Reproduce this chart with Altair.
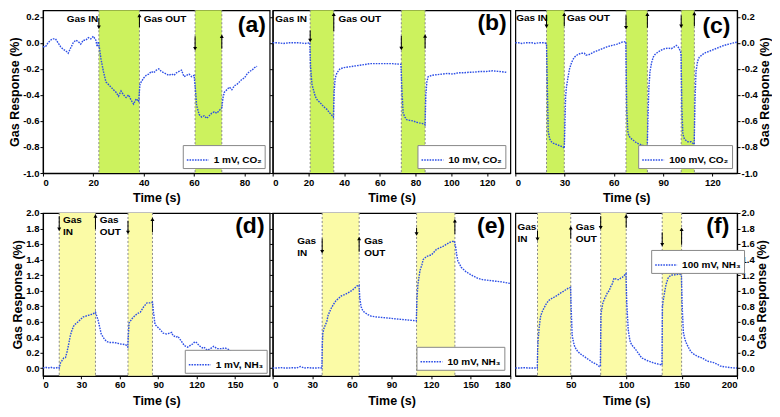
import altair as alt
import pandas as pd

# ---------------- data ----------------
# (a) 1 mV, CO2
a_time = [0, 1, 2, 3, 4, 5, 6, 7, 8, 9, 10, 11, 12, 13, 14, 15, 16, 17, 18, 19, 20, 21, 21.5, 22,
          22.5, 23, 24, 25, 26, 27, 28, 29, 30, 31, 32, 33, 34, 35, 36, 37, 38,
          38.5, 39, 40, 41, 42, 43, 44, 45, 46, 47, 48, 49, 50, 51, 52, 53, 54, 55, 56, 57, 58, 59, 60,
          60.5, 61, 62, 63, 64, 65, 66, 67, 68, 69, 70, 71,
          71.5, 72, 73, 74, 75, 76, 77, 78, 79, 80, 81, 82, 83, 84, 85]
a_resp = [-0.03, -0.03, 0.0, 0.02, 0.03, 0.03, 0.0, -0.03, -0.05, -0.06, -0.08, -0.04, 0.0, 0.02, 0.01, -0.01, 0.02, 0.02, 0.04, 0.03, 0.05, 0.02, -0.03, 0.01,
          -0.05, -0.12, -0.22, -0.3, -0.32, -0.34, -0.36, -0.38, -0.41, -0.37, -0.4, -0.42, -0.4, -0.44, -0.47, -0.43, -0.45,
          -0.32, -0.3, -0.27, -0.25, -0.24, -0.22, -0.23, -0.21, -0.2, -0.22, -0.23, -0.24, -0.25, -0.24, -0.25, -0.23, -0.22, -0.21, -0.26, -0.25, -0.24, -0.26, -0.25,
          -0.35, -0.48, -0.55, -0.57, -0.56, -0.58, -0.56, -0.54, -0.53, -0.54, -0.52, -0.5,
          -0.42, -0.38, -0.36, -0.34, -0.36, -0.33, -0.32, -0.3, -0.28, -0.27, -0.24, -0.22, -0.21, -0.19, -0.18]

# (b) 10 mV, CO2
b_time = [0, 3, 6, 9, 12, 15, 18, 20.8,
          21.2, 22, 23, 23.8, 25, 26.6, 28.5, 30.3, 32, 34,
          34.4, 35, 36, 37.7, 40, 42.5, 45, 50, 54.5, 59, 63.8, 67, 71.8,
          72.3, 73, 74, 75, 76.5, 78.6, 80.5, 82, 84, 85.3,
          85.7, 86.3, 87, 89, 91.6, 95, 98, 101, 104, 107, 110, 113, 116, 119.5, 123, 127, 130.7]
b_resp = [0.0, 0.0, -0.005, 0.0, 0.0, 0.0, -0.005, 0.0,
          -0.18, -0.32, -0.37, -0.41, -0.44, -0.46, -0.49, -0.51, -0.54, -0.57,
          -0.38, -0.27, -0.23, -0.2, -0.19, -0.185, -0.18, -0.17, -0.16, -0.16, -0.16, -0.16, -0.165,
          -0.35, -0.54, -0.57, -0.59, -0.595, -0.6, -0.61, -0.615, -0.62, -0.63,
          -0.4, -0.3, -0.26, -0.25, -0.245, -0.24, -0.235, -0.24, -0.23, -0.23, -0.226, -0.225, -0.22, -0.22, -0.215, -0.22, -0.226]

# (c) 100 mV, CO2
c_time = [0, 2, 4, 6, 8, 10, 12, 14, 16, 18, 19,
          19.5, 20, 21, 22, 23, 25, 27, 29, 29.8,
          30.2, 30.6, 31, 32, 33, 34, 35, 36, 38, 40, 42, 43, 45, 48, 50, 53, 56, 59, 62, 65, 67.3,
          67.8, 68.5, 69, 70, 72, 74, 76, 78, 80.3,
          80.8, 81.3, 82, 83, 84, 85, 87, 89, 91, 93, 95, 97, 98, 99, 100, 100.9,
          101.4, 102, 103, 104, 105, 107, 108.9,
          109.4, 110, 111, 112, 113, 115, 118, 121, 124, 127, 130, 133, 135]
c_resp = [0.0, 0.0, -0.005, 0.0, 0.0, 0.0, -0.005, 0.0, 0.0, 0.0, -0.01,
          -0.35, -0.68, -0.74, -0.76, -0.77, -0.78, -0.79, -0.8, -0.81,
          -0.62, -0.42, -0.35, -0.27, -0.2, -0.16, -0.13, -0.11, -0.09, -0.08, -0.08, -0.095, -0.09, -0.07, -0.06, -0.045, -0.03, -0.02, -0.01, 0.005, 0.01,
          -0.5, -0.68, -0.71, -0.73, -0.75, -0.77, -0.78, -0.79, -0.81,
          -0.55, -0.35, -0.22, -0.15, -0.11, -0.09, -0.07, -0.055, -0.045, -0.04, -0.045, -0.03, -0.02, -0.03, -0.05, -0.08,
          -0.5, -0.7, -0.74, -0.75, -0.76, -0.76, -0.78,
          -0.45, -0.22, -0.14, -0.11, -0.1, -0.08, -0.065, -0.05, -0.035, -0.02, -0.01, 0.0, 0.005]

# (d) 1 mV, NH3
d_time = [0, 2, 4, 6, 8, 10, 12, 12.7,
          13.7, 15, 16.3, 17.6, 18.8, 20, 21.4, 22.5, 23.9, 25.5, 27.7, 29.5, 31.5, 33.5, 35.4, 37.5, 39.2, 41,
          43, 45.5, 48, 50, 51.9, 55.7, 58, 60.8, 64.6, 66.2,
          67.2, 69.7, 71.5, 73.5, 76, 78.6, 81.2, 83.7, 85.5,
          86.3, 87.5, 88.8, 91.3, 93.9, 96.4, 99, 100.5, 101.5, 104, 105.3, 107.9, 110.4, 113, 116.8, 118, 119.3,
          121.9, 124.4, 125.7, 128.2, 130.8, 133.3, 135.9, 139.7, 142.2, 144.8, 147.3, 149.9, 153.7, 155, 157.5,
          160, 163.9, 167, 170, 173]
d_resp = [0.0, 0.01, 0.0, 0.01, 0.0, 0.0, 0.01, 0.0,
          0.066, 0.1, 0.13, 0.135, 0.21, 0.3, 0.42, 0.48, 0.54, 0.57, 0.6, 0.63, 0.66, 0.67, 0.68, 0.69, 0.7, 0.72,
          0.62, 0.44, 0.37, 0.34, 0.33, 0.33, 0.32, 0.31, 0.3, 0.27,
          0.58, 0.64, 0.67, 0.7, 0.72, 0.79, 0.84, 0.84, 0.85,
          0.72, 0.56, 0.54, 0.5, 0.45, 0.44, 0.45, 0.46, 0.42, 0.4, 0.41, 0.35, 0.29, 0.27, 0.31, 0.33, 0.34,
          0.29, 0.26, 0.27, 0.23, 0.25, 0.28, 0.25, 0.25, 0.26, 0.24, 0.21, 0.17, 0.13, 0.14, 0.2,
          0.15, 0.13, 0.15, 0.12, 0.14]

# (e) 10 mV, NH3
e_time = [0, 3, 6, 9, 12, 15, 18, 21, 24, 27, 30, 33, 36, 37.3,
          37.6, 38, 39, 40, 41, 42, 44, 46, 48, 50, 52, 55, 58, 60, 62, 64, 65.4,
          66, 67, 68, 69.4, 72, 74.4, 78, 84, 90, 96, 102, 108.8,
          109.3, 110, 111.6, 113, 114, 116.6, 120.3, 124, 129, 134, 137.5,
          138.5, 139.5, 140.3, 142.8, 146.5, 151.5, 155, 159, 164, 169, 174, 180]
e_resp = [0.0, 0.0, 0.005, 0.0, 0.0, 0.005, 0.0, 0.02, 0.0, 0.005, 0.0, 0.0, 0.005, 0.0,
          0.3, 0.45, 0.52, 0.56, 0.6, 0.68, 0.76, 0.82, 0.87, 0.9, 0.93, 0.95, 0.98, 1.0, 1.03, 1.06, 1.07,
          0.9, 0.79, 0.75, 0.72, 0.69, 0.67, 0.66, 0.65, 0.64, 0.63, 0.62, 0.61,
          0.9, 1.08, 1.26, 1.33, 1.4, 1.44, 1.46, 1.53, 1.57, 1.62, 1.64,
          1.57, 1.45, 1.38, 1.3, 1.24, 1.19, 1.16, 1.14, 1.13, 1.12, 1.11, 1.09]

# (f) 100 mV, NH3
f_time = [0, 4, 8, 12, 16, 19.8,
          20.2, 20.6, 21.5, 22.7, 24, 25.7, 28, 30, 32, 34.5, 37, 39, 41, 43.4, 45.5, 47.8, 49.8,
          50.4, 51.3, 52.5, 53.7, 56, 58, 61, 64, 67, 70, 73, 75.8, 76.7,
          77.3, 78.8, 80, 81.7, 83, 84.7, 86, 87.6, 89, 90.5, 92, 93.5, 95, 96.5, 98, 99.8,
          100.5, 101.8, 102.8, 103.8, 106, 108, 111, 114, 117, 120, 124, 129, 132.3,
          132.7, 133.5, 134.8, 136, 137.8, 139, 140.7, 143, 146.6, 148.5, 149.8,
          150.5, 151.6, 152.8, 154, 156, 158.4, 161, 164.3, 168.7, 173, 176, 179, 182, 185, 189, 193.8, 198, 200]
f_resp = [0.0, 0.0, 0.005, 0.0, 0.0, 0.0,
          0.25, 0.37, 0.52, 0.66, 0.72, 0.77, 0.83, 0.87, 0.89, 0.91, 0.93, 0.95, 0.97, 0.99, 1.01, 1.03, 1.04,
          0.75, 0.42, 0.33, 0.27, 0.22, 0.19, 0.16, 0.13, 0.1, 0.07, 0.05, 0.02, 0.02,
          0.7, 0.83, 0.88, 0.93, 0.97, 1.0, 1.05, 1.09, 1.16, 1.15, 1.14, 1.14, 1.16, 1.17, 1.19, 1.22,
          0.85, 0.5, 0.4, 0.33, 0.28, 0.25, 0.19, 0.13, 0.11, 0.09, 0.07, 0.05, 0.04,
          0.79, 0.88, 0.99, 1.08, 1.16, 1.18, 1.2, 1.2, 1.21, 1.21, 1.2,
          0.8, 0.46, 0.38, 0.33, 0.27, 0.21, 0.18, 0.15, 0.13, 0.09, 0.08, 0.07, 0.05, 0.025, 0.015, 0.005, 0.0, 0.0]

# gas exposure windows (start, end) in seconds
a_regions = [(22.2, 38.3), (60.4, 71.0)]
b_regions = [(21.0, 34.2), (72.0, 85.3)]
c_regions = [(19.0, 29.8), (67.4, 80.4), (101.0, 109.0)]
d_regions = [(12.7, 41.0), (66.4, 85.5)]
e_regions = [(37.5, 65.5), (109.0, 138.0)]
f_regions = [(20.0, 50.0), (77.0, 100.0), (132.5, 150.0)]

# arrows: (time, tail value, head value)
a_arrows = [(22.2, 0.19, 0.12), (38.3, 0.12, 0.21), (60.4, 0.05, -0.045), (71.0, -0.045, 0.05)]
b_arrows = [(21.0, 0.095, 0.017), (34.2, 0.09, 0.22), (72.0, 0.053, -0.044), (85.3, -0.044, 0.053)]
c_arrows = [(19.0, 0.21, 0.128), (29.8, 0.128, 0.22), (67.4, 0.21, 0.116), (80.4, 0.116, 0.22),
            (101.0, 0.21, 0.128), (109.0, 0.128, 0.225)]
d_arrows = [(12.7, 1.96, 1.79), (41.0, 1.79, 1.96), (66.4, 1.9, 1.75), (85.5, 1.75, 1.92)]
e_arrows = [(37.5, 1.67, 1.5), (65.5, 1.5, 1.67), (109.0, 1.81, 1.73), (138.0, 1.73, 1.9)]
f_arrows = [(20.0, 1.77, 1.66), (50.0, 1.67, 1.81), (77.0, 1.96, 1.81), (100.0, 1.81, 1.96),
            (132.5, 1.75, 1.59), (150.0, 1.59, 1.79)]

# annotation texts: (label, time, value)
a_notes = [("Gas IN", 9.4, 0.18), ("Gas OUT", 40.0, 0.18)]
b_notes = [("Gas IN", 1.5, 0.18), ("Gas OUT", 36.8, 0.18)]
c_notes = [("Gas IN", 0.5, 0.19), ("Gas OUT", 31.5, 0.19)]
d_notes = [("Gas", 15.7, 1.91), ("IN", 15.7, 1.75), ("Gas", 44.3, 1.91), ("OUT", 44.3, 1.75)]
e_notes = [("Gas", 18.6, 1.64), ("IN", 18.6, 1.48), ("Gas", 69.4, 1.64), ("OUT", 69.4, 1.48)]
f_notes = [("Gas", 2.0, 1.82), ("IN", 2.0, 1.66), ("Gas", 54.6, 1.82), ("OUT", 54.6, 1.66)]

# panel letters: (label, time, value)
letters = {
    "a": ("(a)", 88.5, 0.135),
    "b": ("(b)", 131.0, 0.15),
    "c": ("(c)", 131.0, 0.13),
    "d": ("(d)", 173.0, 1.83),
    "e": ("(e)", 176.0, 1.83),
    "f": ("(f)", 193.0, 1.83),
}

series_names = {
    "a": "1 mV, CO\u2082", "b": "10 mV, CO\u2082", "c": "100 mV, CO\u2082",
    "d": "1 mV, NH\u2083", "e": "10 mV, NH\u2083", "f": "100 mV, NH\u2083",
}

x_domains = {"a": [0, 90], "b": [0, 133], "c": [0, 135], "d": [0, 177], "e": [0, 180], "f": [0, 200]}
x_ticks = {
    "a": [0, 20, 40, 60, 80],
    "b": [0, 20, 40, 60, 80, 100, 120],
    "c": [0, 30, 60, 90, 120],
    "d": [0, 30, 60, 90, 120, 150],
    "e": [0, 30, 60, 90, 120, 150, 180],
    "f": [50, 100, 150, 200],
}
co2_y_domain = [-1.0, 0.25]
co2_y_ticks = [-1.0, -0.8, -0.6, -0.4, -0.2, 0.0, 0.2]
nh3_y_domain = [-0.1, 2.0]
nh3_y_ticks = [0.0, 0.2, 0.4, 0.6, 0.8, 1.0, 1.2, 1.4, 1.6, 1.8, 2.0]

# ---------------- styling ----------------
BLUE = "#2d4fe6"
GREEN = "#ccf25e"
YELLOW = "#fbfba6"
FONT = "Liberation Sans"
LABEL_EXPR = "datum.value < 0 ? '-' + format(-datum.value, '.1f') : format(datum.value, '.1f')"
YTITLE = "Gas Response (%)"


def build_panel(key, time, resp, regions, fill, arrows, notes, ydom, yticks,
                width, height, yside, legend, flush=False):
    assert len(time) == len(resp), key
    line_df = pd.DataFrame({"t": time, "v": resp, "series": series_names[key]})
    reg_df = pd.DataFrame(regions, columns=["start", "end"])
    edge_df = pd.DataFrame({"edge": [e for r in regions for e in r]})
    arr_df = pd.DataFrame(arrows, columns=["t", "tail", "head"])
    arr_df["dir"] = ["down" if h < tl else "up" for tl, h in zip(arr_df["tail"], arr_df["head"])]
    note_df = pd.DataFrame(notes, columns=["label", "t", "v"])
    let_df = pd.DataFrame([letters[key]], columns=["label", "t", "v"])

    xs = alt.Scale(domain=x_domains[key], nice=False, zero=False)
    ys = alt.Scale(domain=ydom, nice=False, zero=False)

    # identical axis definitions on every layer, so that Vega-Lite merges them into one
    x_axis_kw = dict(values=x_ticks[key], title="Time (s)", format="d", titlePadding=5)
    if flush:
        x_axis_kw["labelFlush"] = True
    if yside == "left":
        y_axis_kw = dict(values=yticks, title=YTITLE, labelExpr=LABEL_EXPR)
    elif yside == "right":
        y_axis_kw = dict(orient="right", values=yticks, title=YTITLE, labelExpr=LABEL_EXPR,
                         titleAngle=270, titleBaseline="top")
    else:
        y_axis_kw = dict(values=yticks, labels=False, title="")

    def X(field):
        return alt.X(field, scale=xs, axis=alt.Axis(**x_axis_kw))

    def Y(field):
        return alt.Y(field, scale=ys, axis=alt.Axis(**y_axis_kw))

    rects = alt.Chart(reg_df).mark_rect(color=fill, opacity=1).encode(x=X("start:Q"), x2="end:Q")
    edges = alt.Chart(edge_df).mark_rule(color="#8a8a8a", strokeWidth=1, strokeDash=[2, 2]).encode(
        x=X("edge:Q"))
    line = alt.Chart(line_df).mark_line(strokeDash=[1.6, 1.1], strokeWidth=1.4).encode(
        x=X("t:Q"), y=Y("v:Q"),
        color=alt.Color("series:N", scale=alt.Scale(range=[BLUE]), legend=legend),
    )
    arr = alt.Chart(arr_df).mark_rule(color="black", strokeWidth=1).encode(
        x=X("t:Q"), y=Y("tail:Q"), y2="head:Q")
    heads = alt.Chart(arr_df).mark_point(filled=True, color="black", size=16, opacity=1).encode(
        x=X("t:Q"), y=Y("head:Q"),
        shape=alt.Shape("dir:N", scale=alt.Scale(domain=["down", "up"], range=["triangle-down", "triangle-up"]),
                        legend=None))
    txt = alt.Chart(note_df).mark_text(align="left", baseline="middle", font=FONT, fontWeight="bold",
                                       fontSize=10, color="black").encode(
        x=X("t:Q"), y=Y("v:Q"), text="label:N")
    let = alt.Chart(let_df).mark_text(align="right", baseline="middle", font=FONT, fontWeight="bold",
                                      fontSize=23, color="black").encode(
        x=X("t:Q"), y=Y("v:Q"), text="label:N")
    return alt.layer(rects, edges, line, arr, heads, txt, let).properties(width=width, height=height)


def br_legend(offset):
    return alt.Legend(title=None, orient="bottom-right", offset=offset)


H = 163
W1, W2, W3 = 227, 238, 222
pa = build_panel("a", a_time, a_resp, a_regions, GREEN, a_arrows, a_notes, co2_y_domain, co2_y_ticks,
                 W1, H, "left", br_legend(5))
pb = build_panel("b", b_time, b_resp, b_regions, GREEN, b_arrows, b_notes, co2_y_domain, co2_y_ticks,
                 W2, H, "inner", br_legend(5))
pc = build_panel("c", c_time, c_resp, c_regions, GREEN, c_arrows, c_notes, co2_y_domain, co2_y_ticks,
                 W3, H, "right", br_legend(5))
pd_ = build_panel("d", d_time, d_resp, d_regions, YELLOW, d_arrows, d_notes, nh3_y_domain, nh3_y_ticks,
                  W1, H, "left", br_legend(3))
pe = build_panel("e", e_time, e_resp, e_regions, YELLOW, e_arrows, e_notes, nh3_y_domain, nh3_y_ticks,
                 W2, H, "inner", br_legend(6), flush=True)
pf = build_panel("f", f_time, f_resp, f_regions, YELLOW, f_arrows, f_notes, nh3_y_domain, nh3_y_ticks,
                 W3, H, "right", alt.Legend(title=None, orient="none", legendX=136, legendY=37))

res = dict(x="independent", y="independent", color="independent", shape="independent")
chart = alt.concat(
    pa, pb, pc, pd_, pe, pf, columns=3, spacing={"row": 2, "column": -3}
).resolve_scale(**res).properties(
    padding=0, background="white"
).configure_view(
    stroke="black", strokeWidth=1.2, fill="white"
).configure_axis(
    labelFont=FONT, labelFontSize=9.5, labelFontWeight="bold", labelColor="black",
    titleFont=FONT, titleFontSize=12.5, titleFontWeight="bold", titleColor="black",
    tickColor="black", domainColor="black", tickSize=3, labelPadding=1, titlePadding=1,
    grid=False, domainWidth=1.2, tickWidth=1,
).configure_legend(
    fillColor="white", strokeColor="#888888", padding=3, labelFont=FONT, labelFontSize=10,
    labelFontWeight="bold", labelColor="black", symbolType="stroke", symbolDash=[1.6, 1.1],
    symbolStrokeWidth=1.5, symbolSize=480, labelOffset=4, cornerRadius=0,
)

chart.save("out.html", embed_options={"renderer": "svg", "actions": False})
